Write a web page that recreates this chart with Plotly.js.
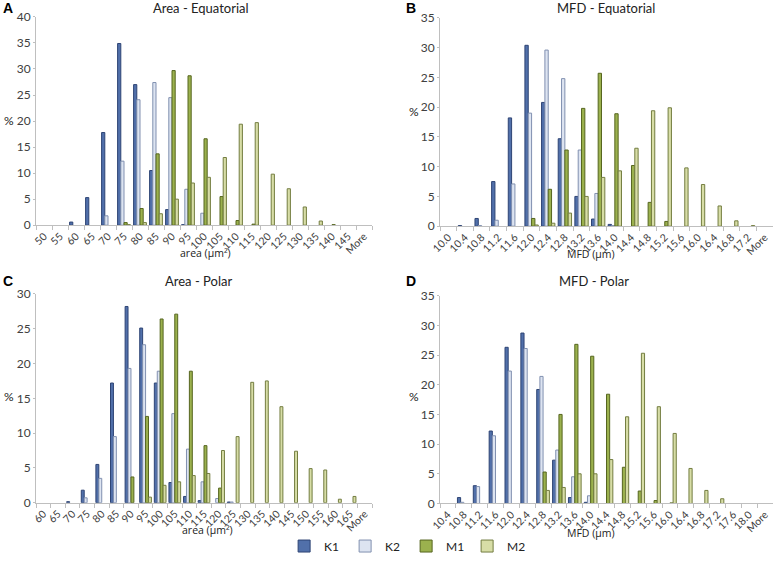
<!DOCTYPE html>
<html>
<head>
<meta charset="utf-8">
<script src="https://cdn.plot.ly/plotly-3.0.1.min.js"></script>
<style>
  html, body { margin: 0; padding: 0; background: #fff; }
  #chart { width: 778px; height: 561px; }
</style>
</head>
<body>
<div id="chart"></div>
<script>
// Size histograms, % of grains per bin
const seriesNames = ['K1', 'K2', 'M1', 'M2'];

// A: Area - Equatorial
const areaEqBins = ['50','55','60','65','70','75','80','85','90','95','100','105','110','115','120','125','130','135','140','145','More'];
const areaEqK1 = [0, 0, 0.6, 5.3, 17.8, 34.9, 27.0, 10.5, 3.0, 0.1, 0, 0, 0, 0, 0, 0, 0, 0, 0, 0, 0];
const areaEqK2 = [0, 0, 0, 0, 1.8, 12.3, 24.1, 27.4, 24.5, 6.9, 2.3, 0, 0, 0, 0, 0, 0, 0, 0, 0, 0];
const areaEqM1 = [0, 0, 0, 0, 0, 0.5, 3.2, 13.7, 29.7, 28.7, 16.6, 5.5, 0.9, 0.2, 0, 0, 0, 0, 0.1, 0, 0];
const areaEqM2 = [0, 0, 0, 0, 0, 0.1, 0.5, 2.2, 5.0, 8.1, 9.2, 13.0, 19.4, 19.7, 9.8, 7.0, 3.5, 0.8, 0, 0, 0];

// B: MFD - Equatorial
const mfdEqBins = ['10.0','10.4','10.8','11.2','11.6','12.0','12.4','12.8','13.2','13.6','14.0','14.4','14.8','15.2','15.6','16.0','16.4','16.8','17.2','More'];
const mfdEqK1 = [0, 0.1, 1.3, 7.5, 18.2, 30.4, 20.8, 14.7, 5.0, 1.2, 0.3, 0, 0, 0, 0, 0, 0, 0, 0, 0];
const mfdEqK2 = [0, 0, 0.1, 1.0, 7.1, 19.0, 29.6, 24.8, 12.8, 5.5, 0.1, 0, 0, 0, 0, 0, 0, 0, 0, 0];
const mfdEqM1 = [0, 0, 0, 0, 0, 1.3, 6.2, 12.8, 19.8, 25.7, 18.9, 10.2, 4.0, 0.8, 0, 0, 0, 0, 0, 0];
const mfdEqM2 = [0, 0, 0, 0, 0, 0.2, 0.5, 2.2, 5.0, 8.2, 9.3, 13.1, 19.4, 19.9, 9.8, 7.0, 3.4, 0.9, 0.1, 0];

// C: Area - Polar
const areaPoBins = ['60','65','70','75','80','85','90','95','100','105','110','115','120','125','130','135','140','145','150','155','160','165','More'];
const areaPoK1 = [0, 0, 0.15, 1.8, 5.5, 17.2, 28.2, 25.1, 17.2, 2.9, 0.9, 0.3, 0, 0.1, 0, 0, 0, 0, 0, 0, 0, 0, 0];
const areaPoK2 = [0, 0, 0, 0.7, 3.5, 9.5, 19.3, 22.7, 18.9, 12.8, 7.7, 3.0, 0.6, 0.1, 0, 0, 0, 0, 0, 0, 0, 0, 0];
const areaPoM1 = [0, 0, 0, 0, 0, 0, 3.7, 12.4, 26.4, 27.1, 18.9, 8.2, 2.1, 0, 0, 0, 0, 0, 0, 0, 0, 0, 0];
const areaPoM2 = [0, 0, 0, 0, 0, 0, 0, 0.8, 2.5, 3.0, 3.9, 4.2, 7.5, 9.5, 17.3, 17.5, 13.8, 7.4, 4.9, 4.7, 0.5, 0.9, 0];

// D: MFD - Polar
const mfdPoBins = ['10.4','10.8','11.2','11.6','12.0','12.4','12.8','13.2','13.6','14.0','14.4','14.8','15.2','15.6','16.0','16.4','16.8','17.2','17.6','18.0','More'];
const mfdPoK1 = [0, 1.0, 3.0, 12.2, 26.3, 28.7, 19.2, 7.3, 1.0, 0.2, 0, 0, 0, 0, 0, 0, 0, 0, 0, 0, 0];
const mfdPoK2 = [0, 0.2, 2.85, 11.4, 22.3, 26.1, 21.4, 9.0, 4.5, 1.3, 0, 0, 0, 0, 0, 0, 0, 0, 0, 0, 0];
const mfdPoM1 = [0, 0, 0, 0, 0, 0, 5.3, 15.0, 26.8, 24.8, 18.4, 6.1, 2.1, 0.5, 0.1, 0, 0, 0, 0, 0, 0];
const mfdPoM2 = [0, 0, 0, 0, 0, 0, 2.2, 2.7, 5.0, 5.0, 7.4, 14.6, 25.3, 16.3, 11.8, 5.9, 2.2, 0.8, 0, 0, 0];

const fills = ['#5170aa', '#dde4f1', '#9bb14e', '#d7dda6'];
const edges = ['#2e4474', '#8190b0', '#56661f', '#737d40'];
const FONT = 'Lato, "Liberation Sans", sans-serif';
// Lato drops "(µ" a line lower in annotations here, so the unit titles use Open Sans
const UNIT_FONT = '"Open Sans", "Liberation Sans", sans-serif';

function panelTraces(cats, cols, xa, ya, showLegend) {
    return cols.map((vals, i) => ({
        type: 'bar',
        name: seriesNames[i],
        x: cats,
        // empty bins get no bar at all (a 0 bar still strokes its outline)
        y: vals.map(v => (v === 0 ? null : v)),
        xaxis: xa,
        yaxis: ya,
        showlegend: showLegend,
        marker: { color: fills[i], line: { color: edges[i], width: 1 } },
        hoverinfo: 'x+y+name'
    }));
}

const data = [].concat(
    panelTraces(areaEqBins, [areaEqK1, areaEqK2, areaEqM1, areaEqM2], 'x', 'y', true),
    panelTraces(mfdEqBins, [mfdEqK1, mfdEqK2, mfdEqM1, mfdEqM2], 'x2', 'y2', false),
    panelTraces(areaPoBins, [areaPoK1, areaPoK2, areaPoM1, areaPoM2], 'x3', 'y3', false),
    panelTraces(mfdPoBins, [mfdPoK1, mfdPoK2, mfdPoM1, mfdPoM2], 'x4', 'y4', false)
);

function xAxis(domain, anchor) {
    return {
        domain: domain, anchor: anchor, type: 'category',
        showline: true, linecolor: '#bfbfbf', linewidth: 1,
        ticks: 'outside', tickson: 'boundaries', ticklen: 4, tickcolor: '#bfbfbf',
        tickangle: -45, tickfont: { size: 10.5, color: '#404040' },
        showgrid: false, zeroline: false, fixedrange: true
    };
}
function yAxis(domain, anchor, maxVal) {
    return {
        domain: domain, anchor: anchor, range: [0, maxVal], dtick: 5,
        showline: true, linecolor: '#bfbfbf', linewidth: 1,
        ticks: 'outside', ticklen: 2, tickcolor: '#bfbfbf',
        tickfont: { size: 12, color: '#404040' },
        showgrid: false, zeroline: false, fixedrange: true
    };
}

const W = 778, H = 561;
const px = v => v / W;
const py = v => 1 - v / H;

function label(text, x, y, size, bold, fam) {
    return {
        text: bold ? '<b>' + text + '</b>' : text,
        x: px(x), y: py(y), xref: 'paper', yref: 'paper',
        showarrow: false, xanchor: 'center', yanchor: 'middle',
        font: { family: fam || (bold ? '"Liberation Sans", Arial, sans-serif' : FONT), size: size, color: bold ? '#000' : '#222' }
    };
}

const layout = {
    width: W, height: H,
    margin: { l: 0, r: 0, t: 0, b: 0 },
    paper_bgcolor: '#fff', plot_bgcolor: '#fff',
    font: { family: FONT, color: '#404040' },
    barmode: 'group', bargap: 0.2, bargroupgap: 0,
    xaxis: xAxis([px(36), px(372)], 'y'),
    yaxis: yAxis([py(226), py(17)], 'x', 40),
    xaxis2: xAxis([px(440), px(773)], 'y2'),
    yaxis2: yAxis([py(227), py(18)], 'x2', 35),
    xaxis3: xAxis([px(36), px(372)], 'y3'),
    yaxis3: yAxis([py(504.5), py(295)], 'x3', 30),
    xaxis4: xAxis([px(440), px(773)], 'y4'),
    yaxis4: yAxis([py(505.3), py(296.7)], 'x4', 35),
    showlegend: true,
    legend: {
        orientation: 'h', x: 0.522, xanchor: 'center', y: py(548), yanchor: 'middle',
        font: { size: 12, color: '#222' }, entrywidth: 16, entrywidthmode: 'pixels'
    },
    annotations: [
        label('A', 8, 8, 14, true),
        label('B', 411, 8, 14, true),
        label('C', 8, 282, 14, true),
        label('D', 411, 282, 14, true),
        label('Area - Equatorial', 201, 8, 13),
        label('MFD - Equatorial', 606, 8, 13),
        label('Area - Polar', 198, 282, 13),
        label('MFD - Polar', 594, 282, 13),
        label('%', 9, 121, 12),
        label('%', 414, 112, 12),
        label('%', 9, 398, 12),
        label('%', 414, 398, 12),
        label('area (µm²)', 205, 254, 10.5, false, UNIT_FONT),
        label('MFD (µm)', 591, 255, 10.5, false, UNIT_FONT),
        label('area (µm²)', 207, 532, 10.5, false, UNIT_FONT),
        label('MFD (µm)', 591, 535, 10.5, false, UNIT_FONT)
    ]
};

Plotly.newPlot('chart', data, layout, { displayModeBar: false, staticPlot: true });
</script>
</body>
</html>
